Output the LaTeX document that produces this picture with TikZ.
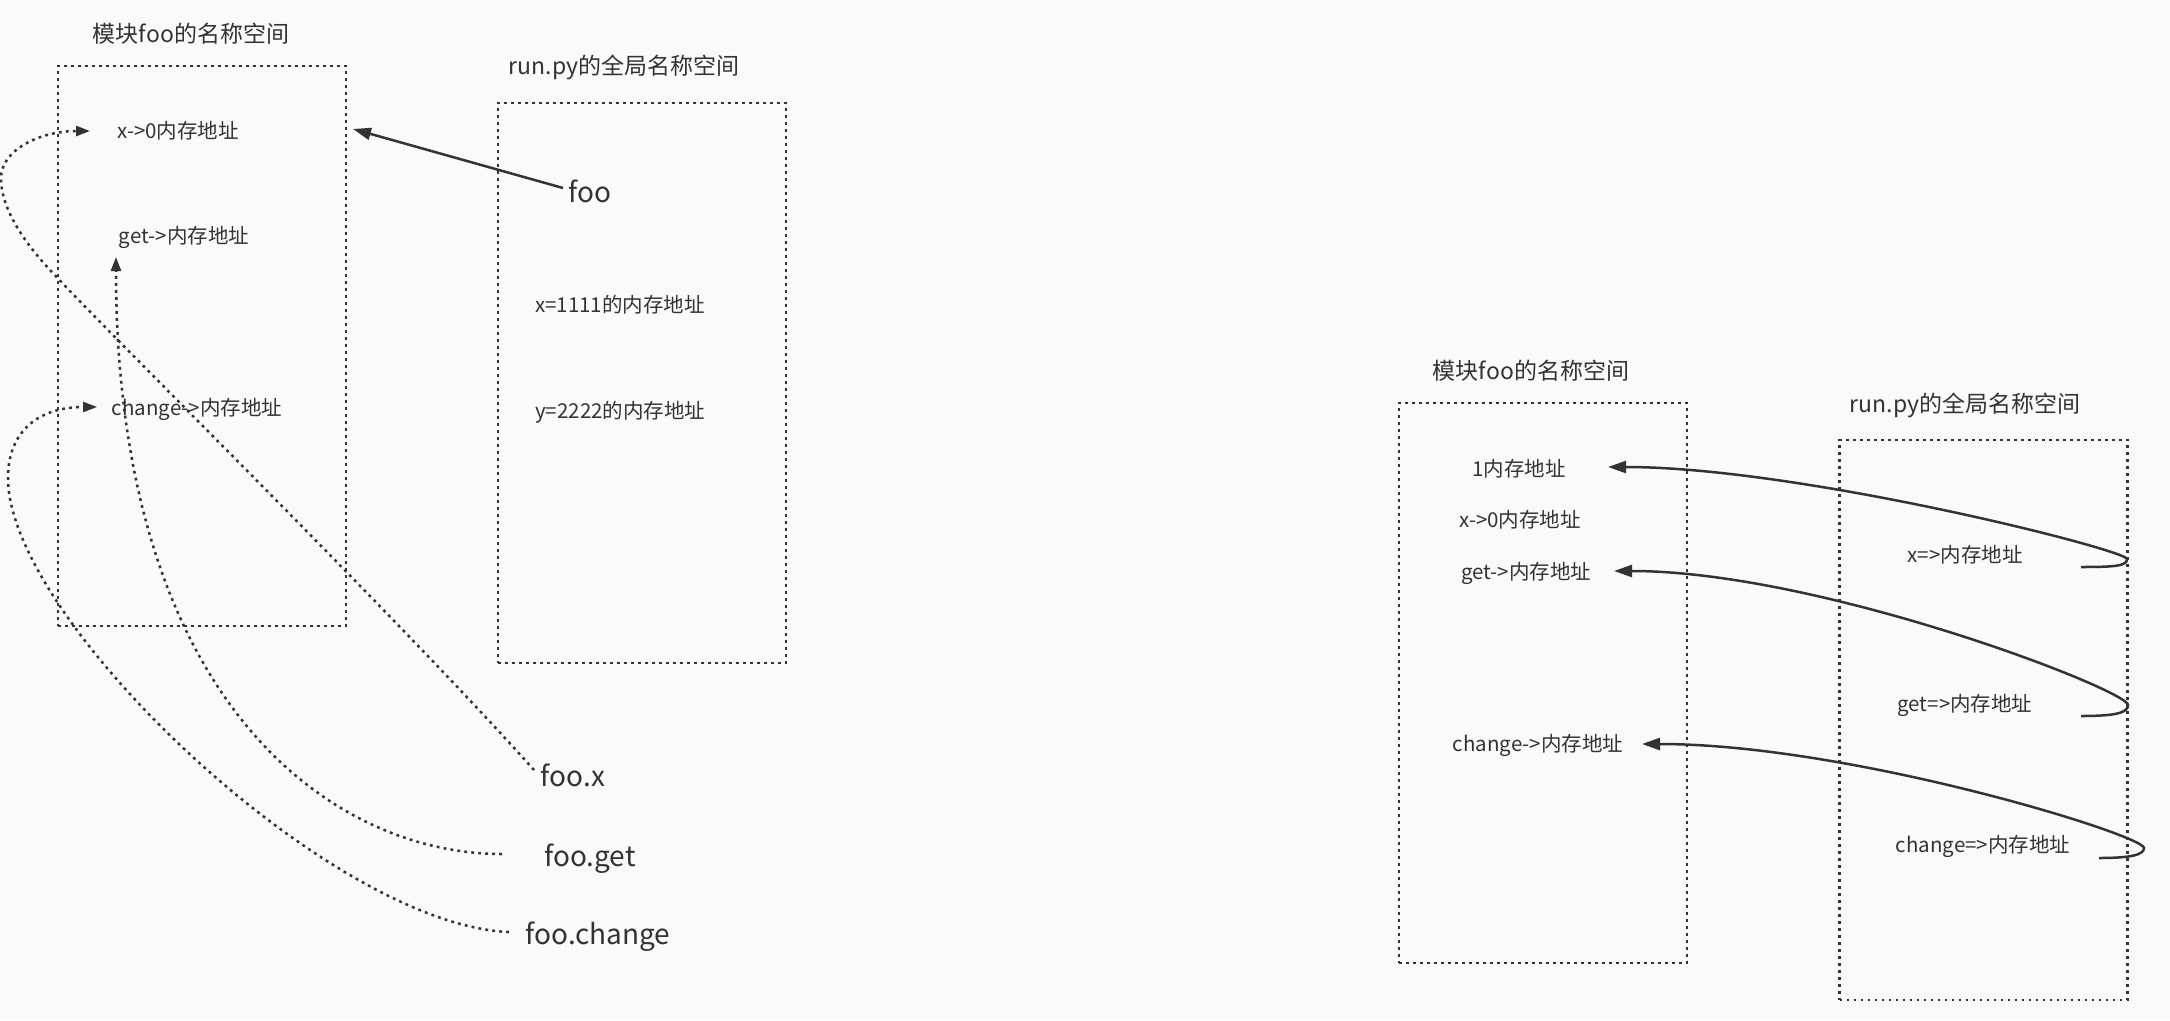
\documentclass[tikz,border=0pt]{standalone}
\usepackage{fontspec}
\setmainfont{Noto Sans CJK SC}
\usetikzlibrary{arrows.meta}
\definecolor{ink}{HTML}{333333}
\definecolor{bg}{HTML}{FAFAFA}
\begin{document}
\begin{tikzpicture}[x=1pt,y=-1pt,
  box/.style={draw=ink, line width=2.5pt, dash pattern=on 2.8pt off 4.2pt, rectangle, inner sep=0pt, minimum width=288pt, minimum height=560pt},
  lbl/.style={text=ink, font=\fontsize{20.5}{24}\selectfont, inner sep=0pt},
  ttl/.style={text=ink, font=\fontsize{23}{28}\selectfont, inner sep=0pt},
  big/.style={text=ink, font=\fontsize{28}{34}\selectfont, inner sep=0pt},
  dotline/.style={draw=ink, line width=2.5pt, dash pattern=on 2.8pt off 4.2pt, -{Triangle[length=14pt,width=10pt]}},
  solidarrow/.style={draw=ink, line width=2.5pt, -{Triangle[length=18pt,width=12pt]}},
]
\useasboundingbox (0,0) rectangle (2170,1020);
\fill[bg] (0,0) rectangle (2170,1020);

% ---------- left diagram ----------
\node[ttl] (t1) at (191,34) {模块foo的名称空间};
\node[box] (b1) at (202,346) {};
\node[ttl] (t2) at (624,67) {run.py的全局名称空间};
\node[box] (b2) at (642,383) {};

\node[lbl] (lx) at (178,131) {x->0内存地址};
\node[lbl] (lg) at (184,237) {get->内存地址};
\node[lbl] (lc) at (197,409) {change->内存地址};

\node[big] (foo) at (590,191) {foo};
\node[lbl, anchor=west] (xm) at (535,305) {x=1111的内存地址};
\node[lbl, anchor=west] (ym) at (535,412) {y=2222的内存地址};

\node[big] (fx) at (573,775) {foo.x};
\node[big] (fg) at (590,859) {foo.get};
\node[big] (fc) at (598,937) {foo.change};

\coordinate (fooS) at (563,188);
\coordinate (fooE) at (353,129);
\draw[solidarrow] (fooS) -- (fooE);

\coordinate (c1s) at (534,770);
\coordinate (c1e) at (90,131);
\draw[dotline] (c1s) .. controls (400,620) and (110,335) .. (50,270)
  .. controls (26,244) and (1,210) .. (1,178)
  .. controls (1,150) and (40,131) .. (c1e);

\coordinate (c2s) at (502,854);
\coordinate (c2e) at (116,257);
\draw[dotline] (c2s) .. controls (330,854) and (116,700) .. (c2e);

\coordinate (c3s) at (509,932);
\coordinate (c3e) at (97,407);
\draw[dotline] (c3s) .. controls (330,925) and (8,620) .. (8,478)
  .. controls (8,430) and (40,407) .. (c3e);

% ---------- right diagram ----------
\node[ttl] (t3) at (1531,371) {模块foo的名称空间};
\node[box] (b3) at (1543,683) {};
\node[ttl] (t4) at (1965,405) {run.py的全局名称空间};
\node[box] (b4) at (1983.5,720) {};

\node[lbl] (r1) at (1519,469) {1内存地址};
\node[lbl] (r2) at (1520,520) {x->0内存地址};
\node[lbl] (r3) at (1526,573) {get->内存地址};
\node[lbl] (r4) at (1538,745) {change->内存地址};

\node[lbl] (s1) at (1965,555) {x=>内存地址};
\node[lbl] (s2) at (1965,705) {get=>内存地址};
\node[lbl] (s3) at (1983,846) {change=>内存地址};

\coordinate (a1s) at (2081,567);
\coordinate (a1e) at (1608,467);
\draw[solidarrow] (a1s) .. controls (2115,567) and (2127,566) .. (2127,559)
  .. controls (2127,550) and (1800,467) .. (a1e);

\coordinate (a2s) at (2081,716);
\coordinate (a2e) at (1614,571);
\draw[solidarrow] (a2s) .. controls (2115,716) and (2128,713) .. (2128,705)
  .. controls (2128,690) and (1820,571) .. (a2e);

\coordinate (a3s) at (2099,858);
\coordinate (a3e) at (1642,744);
\draw[solidarrow] (a3s) .. controls (2130,858) and (2144,855) .. (2144,848)
  .. controls (2144,835) and (1850,744) .. (a3e);
\end{tikzpicture}
\end{document}
